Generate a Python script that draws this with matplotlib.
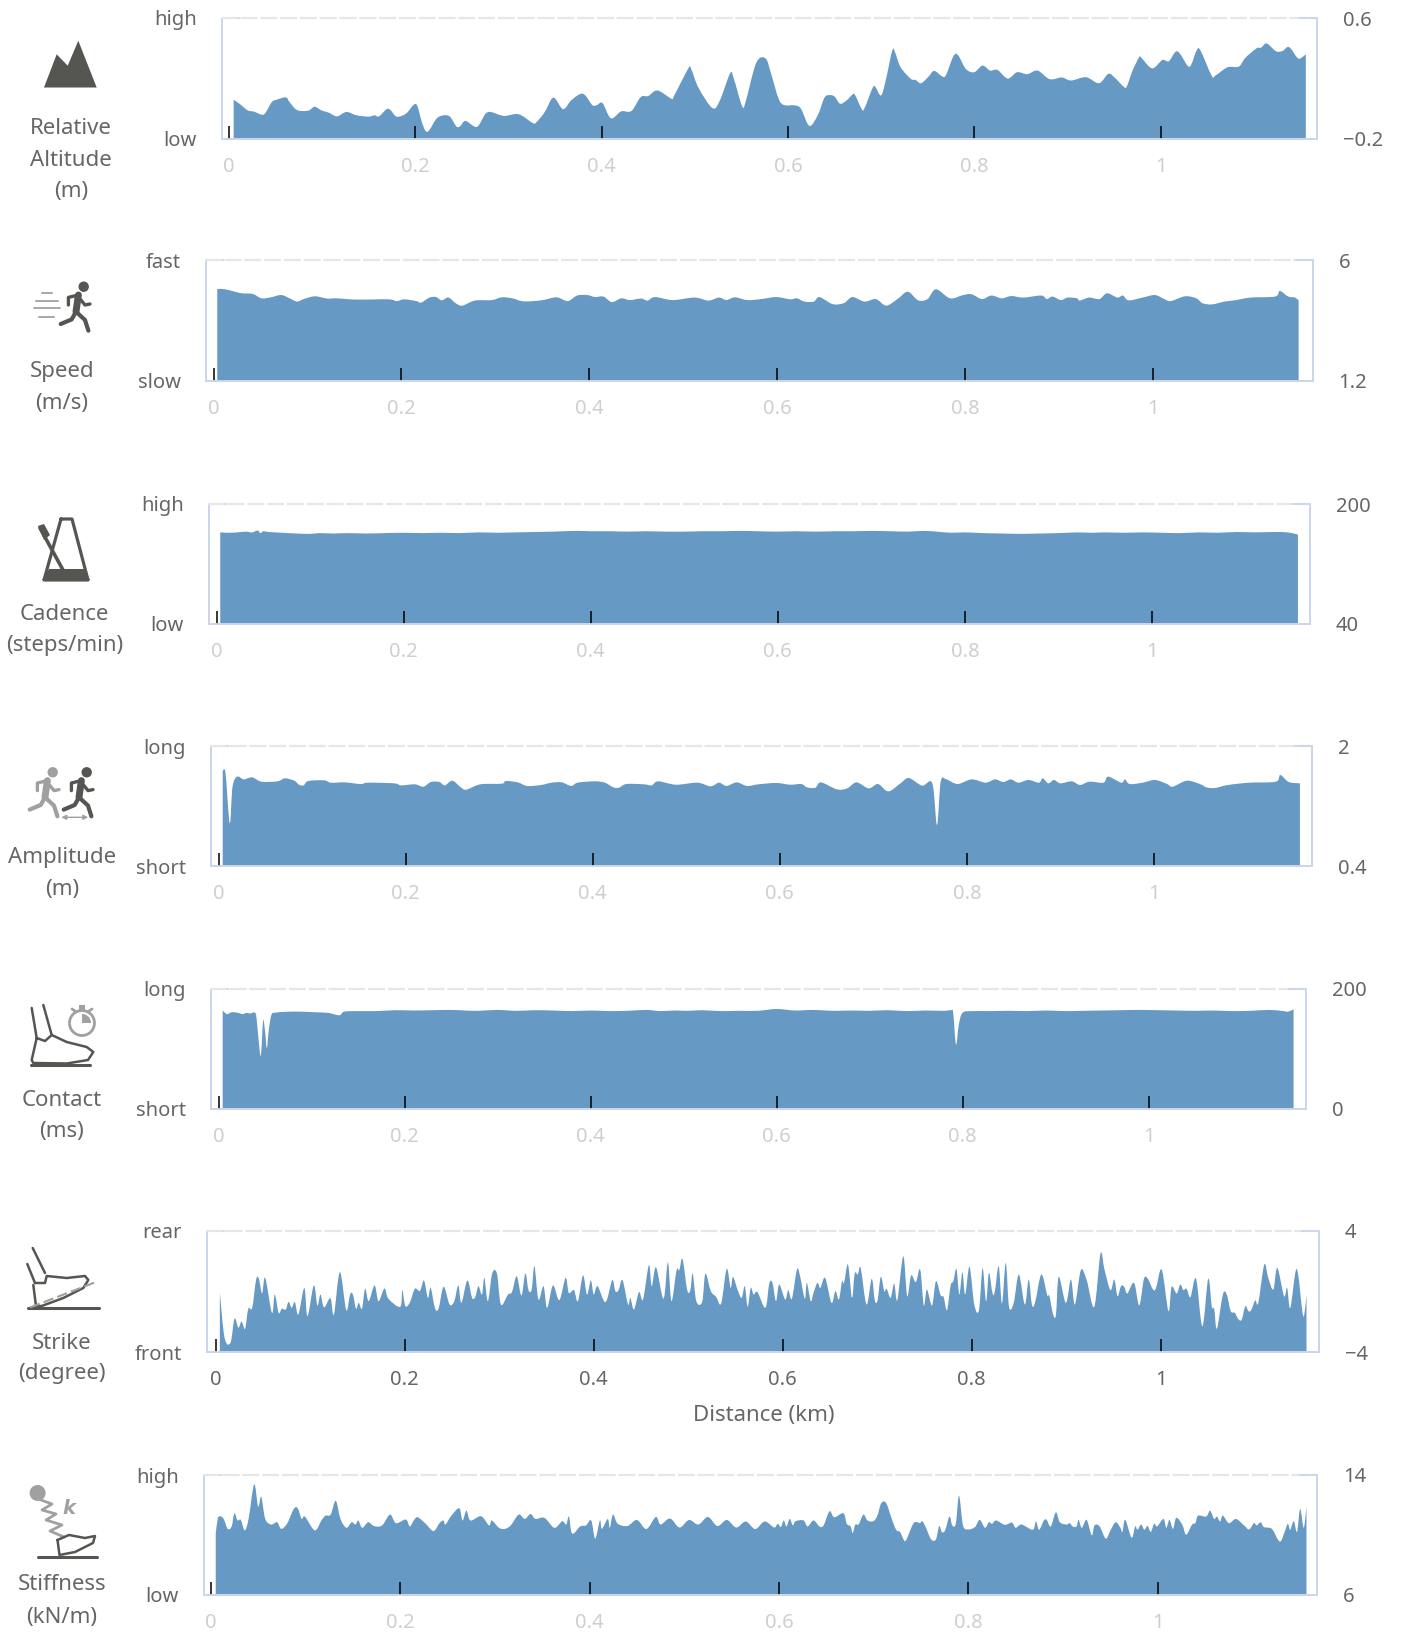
import matplotlib
matplotlib.use("Agg")
import matplotlib.pyplot as plt
from matplotlib.patches import Circle, Polygon, Wedge, Rectangle, PathPatch
from matplotlib.path import Path

plt.rcParams['font.family'] = ['Noto Sans', 'DejaVu Sans']

## Relative altitude (m)
alt_km = [.005,.012,.020,.027,.035,.039,.046,.051,.061,.065,.073,.085,.092,.099,.107,.116,.126,.137,.150,.156,.161,.169,.173,.180,.190,.198,.202,.207,.211,.215,.224,.236,.244,.248,.254,.266,.275,.281,.295,.311,.326,.330,.339,.348,.357,.361,.368,.380,.390,.395,.401,.410,.421,.432,.442,.450,.460,.475,.478,.493,.496,.504,.519,.527,.538,.542,.551,.555,.566,.576,.582,.590,.596,.607,.614,.623,.632,.639,.644,.650,.656,.663,.669,.672,.679,.682,.691,.694,.700,.705,.712,.715,.721,.732,.737,.743,.751,.757,.766,.770,.778,.783,.791,.800,.809,.817,.825,.836,.846,.857,.868,.881,.894,.904,.920,.934,.944,.951,.961,.964,.970,.977,.979,.991,1.002,1.009,1.018,1.029,1.033,1.039,1.043,1.055,1.059,1.072,1.084,1.091,1.103,1.108,1.114,1.124,1.131,1.138,1.147,1.151,1.156]
alt_val = [.057,.027,-.013,-.022,-.042,-.031,.042,.057,.073,.042,-.011,-.015,.011,-.013,-.028,-.053,-.024,-.046,-.055,-.046,-.053,-.006,-.009,-.055,-.035,.022,.018,-.09,-.149,-.145,-.061,-.05,-.119,-.119,-.083,-.123,-.039,-.024,-.05,-.039,-.097,-.092,-.024,.071,.002,.002,.057,.097,.022,.022,.035,-.066,-.02,-.017,.075,.082,.119,.064,.086,.264,.264,.137,.002,.053,.233,.196,.013,.053,.302,.332,.229,.064,.022,.02,-.002,-.116,-.046,.068,.088,.079,.031,.053,.09,.09,-.002,-.002,.137,.141,.086,.185,.383,.372,.273,.196,.189,.167,.211,.249,.211,.225,.35,.35,.262,.24,.284,.251,.255,.198,.24,.227,.251,.194,.205,.185,.207,.167,.229,.203,.141,.148,.251,.339,.339,.266,.321,.313,.379,.284,.291,.387,.383,.216,.218,.273,.277,.335,.398,.403,.431,.379,.381,.407,.335,.335,.359]

## Speed (m/s)
spd_km = [.004,.012,.023,.030,.042,.051,.061,.072,.081,.089,.096,.108,.121,.131,.152,.186,.195,.203,.216,.221,.230,.237,.243,.250,.258,.265,.278,.296,.307,.318,.330,.349,.365,.377,.387,.398,.406,.415,.424,.434,.443,.455,.462,.470,.489,.512,.527,.538,.546,.555,.568,.583,.599,.614,.621,.629,.639,.645,.659,.671,.680,.693,.705,.716,.728,.739,.750,.760,.769,.784,.798,.807,.818,.828,.839,.849,.862,.881,.887,.893,.902,.909,.919,.922,.932,.943,.951,.962,.968,.974,.989,1.002,1.012,1.019,1.034,1.046,1.053,1.063,1.076,1.087,1.104,1.130,1.135,1.144,1.151,1.155]
spd_val = [4.85,4.84,4.74,4.68,4.65,4.48,4.52,4.61,4.48,4.35,4.45,4.56,4.47,4.48,4.43,4.44,4.37,4.44,4.37,4.31,4.51,4.53,4.40,4.51,4.28,4.19,4.39,4.41,4.52,4.48,4.36,4.40,4.52,4.37,4.59,4.61,4.53,4.55,4.33,4.48,4.41,4.47,4.39,4.53,4.41,4.51,4.39,4.51,4.41,4.52,4.41,4.45,4.53,4.44,4.48,4.35,4.35,4.53,4.25,4.29,4.53,4.35,4.45,4.19,4.45,4.74,4.40,4.45,4.84,4.48,4.61,4.64,4.45,4.59,4.48,4.57,4.51,4.59,4.45,4.55,4.41,4.51,4.48,4.39,4.51,4.45,4.68,4.51,4.59,4.40,4.51,4.61,4.45,4.37,4.56,4.48,4.28,4.24,4.35,4.40,4.51,4.55,4.77,4.55,4.51,4.40]

## Cadence (steps/min)
cad_km = [.004,.012,.022,.031,.038,.044,.047,.050,.056,.07,.085,.10,.11,.125,.14,.16,.18,.20,.22,.24,.26,.28,.30,.32,.34,.36,.385,.40,.42,.44,.46,.48,.50,.52,.54,.56,.58,.60,.62,.64,.66,.68,.70,.72,.74,.755,.77,.785,.80,.82,.84,.86,.88,.90,.92,.935,.95,.97,.99,1.01,1.03,1.05,1.07,1.09,1.11,1.13,1.145,1.156]
cad_val = [162,161.5,162,163,162,164.5,161,163.5,162.5,161.5,160.5,160,161,160.5,161,160.5,161,161.5,161,161.5,161,162,161.5,162,162.5,163,164,163.5,163.5,163,163.5,163,163,163.5,163.5,164,163.5,163,163.5,163,163.5,163.5,164,163.5,163,164,163,161.5,162,161,160.5,160,160.5,161,162,161.5,162,161.5,162,161.5,161,162,161.5,162.5,162,162.5,162,159]

## Amplitude (m)
amp_km = [.0045,.0075,.012,.015,.020,.027,.036,.046,.063,.071,.081,.086,.091,.096,.113,.120,.135,.152,.160,.188,.195,.210,.219,.227,.236,.242,.250,.259,.265,.280,.303,.307,.320,.330,.345,.356,.367,.377,.384,.402,.413,.422,.428,.436,.455,.463,.470,.489,.512,.526,.535,.543,.554,.565,.577,.596,.611,.623,.629,.638,.644,.661,.672,.682,.695,.705,.716,.729,.738,.752,.763,.768,.772,.778,.790,.805,.820,.830,.839,.847,.855,.866,.877,.881,.887,.893,.900,.912,.921,.931,.946,.951,.965,.969,.974,.988,1.001,1.014,1.020,1.035,1.049,1.056,1.065,1.079,1.102,1.130,1.135,1.144,1.156]
amp_val = [1.666,1.635,.969,1.457,1.591,1.555,1.582,1.524,1.529,1.569,1.537,1.484,1.475,1.533,1.542,1.511,1.515,1.493,1.511,1.502,1.475,1.489,1.457,1.52,1.52,1.475,1.537,1.449,1.418,1.489,1.498,1.533,1.515,1.467,1.48,1.511,1.515,1.467,1.511,1.529,1.511,1.449,1.444,1.493,1.489,1.475,1.529,1.484,1.511,1.462,1.511,1.467,1.515,1.467,1.489,1.507,1.484,1.493,1.449,1.444,1.515,1.422,1.435,1.515,1.435,1.493,1.395,1.502,1.573,1.471,1.502,.946,1.524,1.555,1.493,1.555,1.511,1.555,1.52,1.555,1.511,1.547,1.511,1.569,1.502,1.547,1.502,1.529,1.48,1.524,1.511,1.591,1.511,1.555,1.493,1.511,1.547,1.493,1.457,1.537,1.493,1.449,1.44,1.48,1.511,1.524,1.613,1.52,1.502]

## Contact (ms)
con_km = [.0045,.009,.014,.020,.026,.030,.034,.039,.041,.0445,.046,.048,.050,.052,.054,.057,.062,.075,.09,.105,.118,.13,.135,.15,.17,.19,.21,.23,.25,.265,.28,.30,.32,.34,.36,.38,.40,.42,.44,.46,.475,.49,.505,.52,.54,.56,.58,.60,.62,.64,.66,.68,.70,.72,.74,.76,.78,.788,.790,.793,.796,.80,.81,.83,.85,.87,.89,.91,.93,.95,.97,.99,1.01,1.03,1.05,1.07,1.09,1.11,1.13,1.145,1.15,1.156]
con_val = [164,158,161,160.5,158,160,159,160.5,150,93,96,147,130,101,130,157,160.5,162,162,161,160,156,162,163,163,164.5,164,164.5,165,164,163.5,165,163.5,164.5,164,163,164,163,163.5,165,163,164,163.5,164.5,163,163.5,163.5,166.5,164,165,163.5,164,163.5,164.5,163,164,163.5,164.5,160,107,140,160,163,163,163.5,163,164,163,163.5,164,164.5,165,164.5,164,163.5,164,163,163.5,165,163,162,166]

## Strike (degree)
str_km = [.0046,.0096,.0159,.0201,.0242,.0276,.0313,.0347,.0388,.0430,.0459,.0493,.0526,.0597,.0627,.0668,.0702,.0744,.0773,.0806,.0840,.0877,.0940,.0973,.1040,.1078,.1111,.1149,.1216,.1253,.1316,.1383,.1424,.1454,.1487,.1516,.1550,.1583,.1621,.1683,.1725,.1788,.1830,.1955,.1976,.2009,.2059,.2109,.2164,.2206,.2247,.2277,.2322,.2360,.2414,.2477,.2527,.2569,.2602,.2665,.2715,.2749,.2782,.2820,.2845,.2882,.2928,.2978,.3020,.3095,.3137,.3187,.3237,.3279,.3312,.3346,.3375,.3417,.3471,.3509,.3571,.3638,.3705,.3738,.3793,.3835,.3889,.3931,.3972,.4002,.4043,.4127,.4198,.4231,.4265,.4307,.4365,.4390,.4428,.4482,.4524,.4586,.4616,.4662,.4741,.4787,.4825,.4879,.4908,.4942,.4992,.5025,.5050,.5088,.5150,.5184,.5242,.5297,.5351,.5409,.5451,.5476,.5526,.5568,.5601,.5631,.5664,.5693,.5735,.5819,.5860,.5894,.5931,.5965,.6028,.6061,.6099,.6153,.6186,.6236,.6257,.6299,.6328,.6370,.6401,.6451,.6518,.6560,.6597,.6630,.6651,.6693,.6735,.6764,.6797,.6827,.6889,.6944,.6977,.7006,.7040,.7077,.7102,.7144,.7182,.7215,.7278,.7319,.7361,.7411,.7457,.7495,.7528,.7582,.7624,.7674,.7704,.7741,.7779,.7808,.7841,.7871,.7904,.7933,.7979,.8029,.8079,.8117,.8154,.8184,.8221,.8246,.8288,.8322,.8363,.8397,.8447,.8501,.8564,.8605,.8639,.8672,.8739,.8802,.8823,.8864,.8894,.8923,.8998,.9052,.9094,.9157,.9219,.9299,.9365,.9407,.9470,.9511,.9545,.9582,.9616,.9649,.9720,.9775,.9825,.9866,.9916,.9950,1.0013,1.0084,1.0117,1.0171,1.0209,1.0242,1.0276,1.0317,1.0376,1.0443,1.0505,1.0543,1.0568,1.0597,1.0660,1.0701,1.0743,1.0785,1.0827,1.0860,1.0898,1.0931,1.0960,1.1002,1.1035,1.1098,1.1140,1.1194,1.1236,1.1307,1.1340,1.1374,1.1441,1.1503,1.1524,1.1545]
str_val = [-.09,-3.06,-3.38,-1.80,-2.40,-1.98,-2.46,-1.14,-1.08,.79,.84,-.13,.90,-1.41,-.20,-1.41,-1.14,-1.19,-.68,-1.08,-.70,-1.52,.24,-1.63,.40,-.92,-.20,-1.05,-.44,-1.52,1.28,-1.23,-.20,-.20,-1.14,-.75,-1.14,.18,-.64,.40,-.64,.20,-.48,-1.01,.09,-.97,-.70,.18,.04,.73,-.42,.24,-1.08,-1.14,.31,-.86,-.64,.40,-.75,.73,-.42,-.35,.35,-.20,.90,-.64,1.19,1.19,-.86,-.20,-.04,1.01,-.26,1.19,.09,.13,1.67,-.53,.35,-1.08,.40,-.57,.90,-.09,.09,-.64,1.06,-.20,.73,-.20,.35,-.70,.75,.02,.09,.75,-.86,-.42,-1.19,-.04,-.53,1.74,.35,1.60,-.48,1.93,-.64,1.41,1.41,2.15,.09,.09,1.19,-.64,-.68,1.17,.02,-.35,-.79,1.49,.24,.97,.09,-.42,.35,-1.01,.24,-.20,-.04,-1.08,.53,.57,-.64,.46,-.53,.09,-.48,1.45,1.01,-.48,.57,-.64,-.09,.57,.24,.90,-.75,.02,-.53,.68,.57,1.78,-.42,1.19,1.12,1.56,-.86,.84,-.59,-.59,.97,.02,.18,-.42,.53,-.57,2.33,-.31,1.06,.62,1.45,-.92,.13,-.92,.68,-.26,-.35,-1.23,.40,.68,1.49,-.20,1.28,-.20,1.63,-.86,-1.23,1.54,-.64,1.23,-.09,-.04,1.67,-.79,1.89,-1.01,-.75,1.12,-.86,.79,-.86,-.75,1.12,-.26,-.26,-1.52,-1.52,.97,-.75,.79,-.86,1.41,.75,-1.01,2.51,1.45,.09,.79,-.31,.35,.31,-.13,.57,-.92,.84,.84,.18,.18,1.45,-1.30,.31,-.13,.46,.09,.18,-.37,.84,-2.29,.84,-1.01,-1.14,-2.46,-.20,-.20,-1.30,-1.41,-1.85,-1.85,-.97,-1.30,-1.23,-.59,-.75,1.78,.90,.13,1.56,-.31,.24,-1.08,1.49,-1.41,-1.41,-.20]

## Stiffness (kN/m)
stf_km = [.0050,.0071,.0096,.0134,.0176,.0218,.0247,.0280,.0314,.0356,.0397,.0456,.0498,.0531,.0573,.0636,.0699,.0741,.0803,.0874,.0916,.0958,.0992,.1096,.1167,.1209,.1264,.1318,.1368,.1431,.1485,.1527,.1556,.1598,.1661,.1724,.1808,.1891,.1954,.2059,.2100,.2142,.2184,.2268,.2351,.2414,.2456,.2477,.2540,.2623,.2657,.2699,.2741,.2854,.2937,.2967,.3042,.3105,.3167,.3251,.3314,.3377,.3427,.3523,.3628,.3711,.3753,.3782,.3816,.3900,.3962,.4017,.4059,.4109,.4130,.4192,.4213,.4247,.4297,.44,.45,.46,.47,.475,.485,.495,.505,.515,.525,.535,.545,.555,.565,.575,.585,.595,.5987,.6021,.6051,.6080,.6114,.6147,.6177,.6261,.6303,.6366,.6429,.6472,.6535,.6585,.6682,.6716,.6758,.6779,.6808,.6842,.6893,.6935,.6998,.7040,.7082,.7133,.7187,.7238,.7280,.7322,.7347,.7419,.7461,.7491,.7516,.7554,.7608,.7659,.7693,.7722,.7756,.7802,.7832,.7869,.7903,.7945,.8000,.8072,.8122,.8177,.8219,.8253,.8295,.8387,.8463,.8501,.8564,.8682,.8716,.8749,.8800,.8829,.8872,.8926,.8968,.9040,.9074,.9103,.9145,.9166,.9200,.9251,.9305,.9335,.9389,.9453,.9503,.9558,.9608,.9629,.9659,.9726,.9764,.9789,.9827,.9861,.9895,.9928,.9966,.9996,1.0063,1.0093,1.0126,1.0164,1.0198,1.0261,1.0303,1.0366,1.0400,1.0429,1.0514,1.0556,1.0598,1.0627,1.0661,1.0691,1.0754,1.0829,1.0914,1.0968,1.1019,1.1048,1.1091,1.1124,1.1208,1.1272,1.1305,1.1343,1.1377,1.1402,1.1440,1.1474,1.1507,1.1545,1.1574]
stf_val = [10.09,11.07,11.25,11.07,10.41,10.57,11.45,10.97,11.01,10.31,11.07,13.38,11.89,12.55,11.07,10.70,10.85,10.41,10.75,11.73,11.78,11.07,11.23,10.31,10.97,11.29,11.36,12.28,11.07,10.48,10.85,10.70,10.97,10.48,10.85,10.59,10.64,11.36,10.79,11.03,10.57,10.97,11.18,10.75,10.26,10.79,10.97,10.70,11.29,11.78,10.97,11.62,10.97,11.25,10.64,10.97,10.48,10.41,10.64,11.36,11.07,11.40,11.07,11.14,10.48,10.92,10.70,11.23,10.09,10.57,10.64,10.97,9.76,10.97,10.41,11.07,10.48,11.36,10.75,10.6,11.0,10.4,11.2,10.7,11.1,10.5,11.0,10.7,11.2,10.6,11.0,10.5,10.9,10.4,10.9,10.5,10.75,10.53,10.97,10.57,11.07,10.64,10.92,10.97,10.57,10.97,10.57,10.64,11.58,11.18,11.45,10.75,10.57,10.13,10.70,10.70,11.36,10.97,10.92,11.29,12.13,12.13,11.18,10.35,10.20,9.65,9.69,10.75,10.85,10.79,10.92,10.48,9.71,9.71,10.59,10.20,10.31,11.23,10.64,10.75,12.61,10.64,10.37,10.53,11.01,10.48,10.85,10.75,10.97,10.68,10.83,10.48,10.70,10.35,10.90,10.35,10.97,11.01,10.57,11.51,10.85,10.70,10.79,10.57,10.57,11.01,10.48,11.01,9.98,10.64,10.57,9.76,10.31,10.85,10.48,10.20,11.01,9.82,10.57,10.35,10.70,10.35,10.61,10.20,10.75,10.57,11.07,10.48,11.01,10.41,11.14,10.70,10.02,10.70,10.79,11.29,11.23,11.62,11.07,11.23,10.90,11.29,10.79,11.07,10.64,10.37,10.79,10.64,10.85,10.53,10.41,9.69,9.60,10.20,10.75,10.35,10.92,10.20,11.73,10.48,11.89]

tick_km = [0, 0.2, 0.4, 0.6, 0.8, 1]
tick_labels = ['0', '0.2', '0.4', '0.6', '0.8', '1']

AREA = '#6699c3'
BOX = '#ccd6eb'
DARK = '#555552'
GRAY = '#a0a0a0'
TEXT = '#666666'

W, H = 1401, 1632
fig = plt.figure(figsize=(W / 100, H / 100), dpi=100)


def spline_area(ax, xs, ys, base):
    ## curved top edge through the read points (the original is an area spline)
    verts = [(xs[0], base), (xs[0], ys[0])]
    codes = [Path.MOVETO, Path.LINETO]
    n = len(xs)
    for i in range(n - 1):
        a = max(i - 1, 0)
        b = min(i + 2, n - 1)
        verts.append((xs[i] + (xs[i + 1] - xs[a]) / 6, ys[i] + (ys[i + 1] - ys[a]) / 6))
        verts.append((xs[i + 1] - (xs[b] - xs[i]) / 6, ys[i + 1] - (ys[b] - ys[i]) / 6))
        verts.append((xs[i + 1], ys[i + 1]))
        codes += [Path.CURVE4, Path.CURVE4, Path.CURVE4]
    verts.append((xs[-1], base))
    codes.append(Path.LINETO)
    verts.append((xs[0], base))
    codes.append(Path.CLOSEPOLY)
    ax.add_patch(PathPatch(Path(verts, codes), fc=AREA, lw=0, zorder=1))


## one row per chart: box left, right, top, bottom, x of km 0, x of km 1 (pixels), data, y limits and labels
panels = [
    (222, 1317, 18, 138.5, 229, 1160.5, alt_km, alt_val, -0.2, 0.6, 'low', 'high', '\u22120.2', '0.6', '#cfcfcf'),
    (206, 1312.5, 260, 381, 213.5, 1153, spd_km, spd_val, 1.2, 6, 'slow', 'fast', '1.2', '6', '#cfcfcf'),
    (209, 1310, 504, 623.5, 216.5, 1152, cad_km, cad_val, 40, 200, 'low', 'high', '40', '200', '#cfcfcf'),
    (211, 1312, 746, 866, 218.5, 1154, amp_km, amp_val, 0.4, 2, 'short', 'long', '0.4', '2', '#cfcfcf'),
    (211, 1306, 989, 1108.5, 218.5, 1148.5, con_km, con_val, 0, 200, 'short', 'long', '0', '200', '#cfcfcf'),
    (207, 1319, 1231, 1352, 215.5, 1160.5, str_km, str_val, -4, 4, 'front', 'rear', '\u22124', '4', TEXT),
    (204, 1317, 1475, 1595, 211, 1157.5, stf_km, stf_val, 6, 14, 'low', 'high', '6', '14', '#cfcfcf'),
]

for left, right, top, bottom, x0, x1, km, val, lo, hi, lo_txt, hi_txt, lo_num, hi_num, tick_col in panels:
    ax = fig.add_axes([left / W, 1 - bottom / H, (right - left) / W, (bottom - top) / H])
    per_km = x1 - x0
    ax.set_xlim((left - x0) / per_km, (right - x0) / per_km)
    ax.set_ylim(lo, hi)
    spline_area(ax, km, val, lo)

    ax.set_axisbelow(False)
    ax.set_xticks(tick_km, tick_labels)
    ax.tick_params(axis='x', direction='in', length=9.5, width=1.1, pad=13, labelsize=14.5, labelcolor=tick_col)
    for i, t in enumerate(ax.xaxis.get_major_ticks()):
        t.tick1line.set_color('#111111' if i == 0 else '#2c6590')

    ax.set_yticks([lo, hi], [lo_txt, hi_txt])
    ax.tick_params(axis='y', length=0, pad=18, labelsize=14.5, labelcolor=TEXT)

    ax2 = ax.twinx()
    ax2.set_ylim(lo, hi)
    ax2.set_yticks([lo, hi], [lo_num, hi_num])
    ax2.tick_params(axis='y', length=0, pad=18.7, labelsize=14.5, labelcolor=TEXT)

    for a in (ax, ax2):
        for name in ('left', 'right', 'bottom'):
            a.spines[name].set_color(BOX)
            a.spines[name].set_linewidth(1.3)
        a.spines['top'].set_color('#e6e6e6')
        a.spines['top'].set_linewidth(1.5)
        a.spines['top'].set_linestyle((0, (7, 2.5)))
    ## short solid corners on the dashed top line
    frac = 17 / (right - left)
    ax.plot([0, frac], [1, 1], color=BOX, lw=1.3, transform=ax.transAxes, clip_on=False, zorder=5)
    ax2.plot([1 - frac, 1], [1, 1], color=BOX, lw=1.3, transform=ax2.transAxes, clip_on=False, zorder=5)

## overlay in pixels for the icons and the row names
ov = fig.add_axes([0, 0, 1, 1])
ov.set_xlim(0, W)
ov.set_ylim(H, 0)
ov.axis('off')
ov.patch.set_alpha(0)

## row names
names = [
    (70.8, [(128.5, 'Relative'), (160.5, 'Altitude'), (192, '(m)')]),
    (62, [(371.5, 'Speed'), (403, '(m/s)')]),
    (64.5, [(614, 'Cadence'), (646, '(steps/min)')]),
    (62, [(857.5, 'Amplitude'), (889.5, '(m)')]),
    (62, [(1100.5, 'Contact'), (1131, '(ms)')]),
    (62, [(1343.5, 'Strike'), (1374, '(degree)')]),
    (62, [(1585, 'Stiffness'), (1617, '(kN/m)')]),
]
for cx, lines in names:
    for y, s in lines:
        ov.text(cx, y, s, ha='center', va='center', fontsize=16, color=TEXT)
ov.text(764, 1415, 'Distance (km)', ha='center', va='center', fontsize=16, color=TEXT)


def stroke(pts, color=DARK, lw=2.2, **kw):
    ov.plot([p[0] for p in pts], [p[1] for p in pts], color=color, lw=lw,
            solid_capstyle='round', solid_joinstyle='round', **kw)


def runner(hx, hy, color):
    ## hx, hy is the head
    ov.add_patch(Circle((hx, hy), 5.2, color=color, lw=0))
    stroke([(hx - 5.3, hy + 8.3), (hx - 7.7, hy + 25)], color, 5)
    stroke([(hx - 5.3, hy + 8.3), (hx - 15.3, hy + 10.7), (hx - 15.3, hy + 18.3)], color, 2.4)
    stroke([(hx - 3, hy + 13), (hx + 1.3, hy + 18.3), (hx + 6.3, hy + 17.3)], color, 2.4)
    stroke([(hx - 7.7, hy + 25), (hx + 1.3, hy + 33.3), (hx + 4.7, hy + 44)], color, 3)
    stroke([(hx - 7.7, hy + 25), (hx - 12, hy + 32.7), (hx - 23, hy + 37.3)], color, 3)


## altitude
ov.add_patch(Polygon([(44, 87.5), (56.7, 54.3), (67.7, 65.7), (78.3, 40.7), (96.7, 87.5)], color=DARK, lw=0))

## speed
runner(83.7, 286.7, DARK)
for x_a, x_b, y in [(42, 51.5, 293.3), (36, 58, 301), (33.5, 59.5, 308.3), (39, 53.5, 316.7)]:
    stroke([(x_a, y), (x_b, y)], GRAY, 1.3)

## cadence
stroke([(61, 519), (72, 519), (88, 580), (44, 580), (61, 519)], DARK, 2.3)
ov.add_patch(Polygon([(49, 569), (84, 569), (90, 580), (42, 580)], color=DARK, lw=0))
stroke([(40, 528), (63, 570)], DARK, 2.6)
ov.add_patch(Polygon([(38, 526), (44, 524), (50, 535), (44, 540)], color=DARK, lw=0))

## amplitude
runner(52.7, 772.3, GRAY)
runner(86.7, 772.3, DARK)
ov.annotate('', xy=(91, 817.3), xytext=(58.5, 817.3), arrowprops=dict(arrowstyle='<|-|>', color=GRAY, lw=1, fill=False, mutation_scale=7))

## contact
stroke([(31.7, 1008), (36.7, 1038)], DARK, 1.8)
stroke([(43.3, 1005), (51.7, 1035)], DARK, 1.8)
stroke([(36.7, 1038), (31.7, 1060), (33.3, 1063), (66.7, 1063.5), (88, 1060), (93.3, 1052), (86.7, 1047), (66.7, 1042), (51.7, 1035), (45, 1041), (36.7, 1038)], DARK, 1.8)
stroke([(30.7, 1065), (90, 1065)], DARK, 2.2)
ov.add_patch(Circle((82, 1023), 12.5, fill=False, ec=GRAY, lw=2))
ov.add_patch(Wedge((82, 1023), 9, -90, 0, color=GRAY, lw=0))
ov.add_patch(Rectangle((79, 1005), 6, 4.5, color=GRAY, lw=0))
stroke([(72, 1009), (75, 1011)], GRAY, 2)
stroke([(92, 1009), (89, 1011)], GRAY, 2)

## strike
stroke([(32.7, 1248), (45, 1273)], DARK, 1.8)
stroke([(27.3, 1264), (35, 1283)], DARK, 1.8)
stroke([(35, 1283), (45, 1283), (46.7, 1276), (66.7, 1278), (85, 1276), (88.3, 1280), (83.3, 1288), (63.3, 1298), (41.7, 1306), (36, 1306), (33.3, 1285)], DARK, 1.8)
stroke([(28.3, 1307.5), (99.3, 1307.5)], DARK, 2.2)
ov.plot([30, 96.7], [1307.5, 1281.7], color=GRAY, lw=1.5, ls=(0, (5, 2)))

## stiffness
ov.add_patch(Circle((37.6, 1493), 8, color=GRAY, lw=0))
stroke([(41, 1500), (52, 1504), (42, 1510), (56, 1514), (46, 1520), (62, 1525), (50, 1531), (64, 1537)], GRAY, 2)
ov.text(69, 1508, 'k', fontsize=14, fontweight='bold', style='italic', family='DejaVu Sans', color=GRAY, ha='center', va='center')
stroke([(57.5, 1540), (59.5, 1555), (75, 1552), (93, 1543), (95, 1536), (85, 1538), (69, 1535), (57.5, 1540)], DARK, 1.8)
stroke([(37.5, 1556.5), (97, 1556.5)], DARK, 2.2)

fig.savefig('out.png', dpi=100)
